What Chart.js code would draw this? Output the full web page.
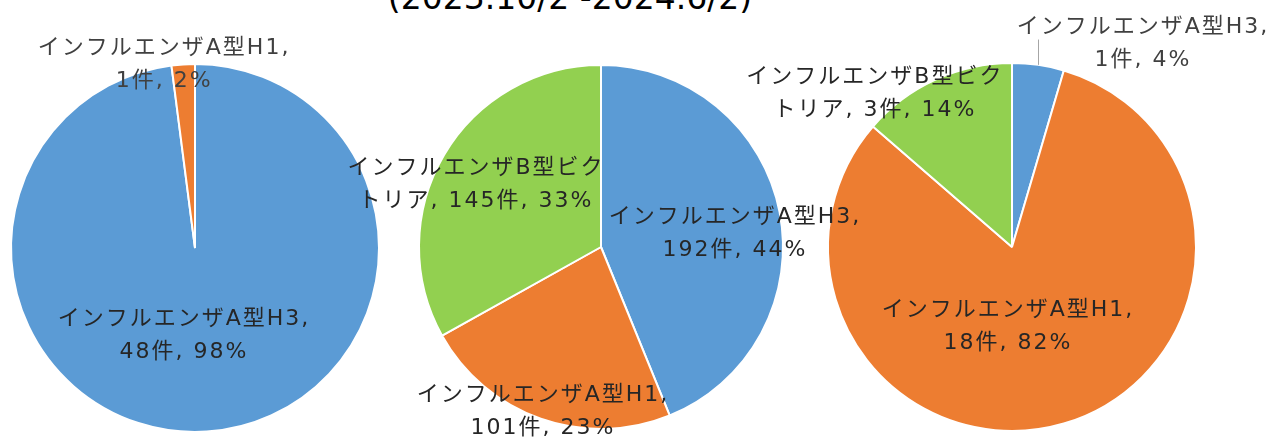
<!DOCTYPE html>
<html lang="ja">
<head>
<meta charset="utf-8">
<script src="https://cdn.jsdelivr.net/npm/chart.js@4.4.1/dist/chart.umd.min.js"></script>
<style>
  html, body { margin: 0; padding: 0; background: #fff; }
  #stage { position: relative; width: 1272px; height: 441px; overflow: hidden; }
  #stage canvas { position: absolute; left: 0; top: 0; }
  #pieMid { z-index: 2; }
  #period {
    position: absolute; left: 320px; width: 500px; top: -19px;
    text-align: center; white-space: nowrap;
    font-family: "DejaVu Sans", "Noto Sans CJK JP", sans-serif;
    font-size: 33px; line-height: 1; color: #000;
  }
</style>
</head>
<body>
<div id="stage">
  <div id="period">(2023.10/2 -2024.6/2)</div>
  <canvas id="pieLeft" width="1272" height="441"></canvas>
  <canvas id="pieMid" width="1272" height="441"></canvas>
  <canvas id="pieRight" width="1272" height="441"></canvas>
</div>
<script>
// Subtype names
const H3 = 'インフルエンザA型H3';
const H1 = 'インフルエンザA型H1';
const BV = 'インフルエンザB型ビクトリア';

// Left pie
const leftCategories = [H3, H1];
const leftCounts = [48, 1];
const leftPercents = [98, 2];

// Middle pie
const midCategories = [H3, H1, BV];
const midCounts = [192, 101, 145];
const midPercents = [44, 23, 33];

// Right pie
const rightCategories = [H3, H1, BV];
const rightCounts = [1, 18, 3];
const rightPercents = [4, 82, 14];

const COLORS = { [H3]: '#5B9BD5', [H1]: '#ED7D31', [BV]: '#92D050' };
const FONT = '"DejaVu Sans", "Noto Sans CJK JP", sans-serif';

// Draws "name, n件, p%" labels, wrapped onto two lines, anchored relative to the pie centre
const sliceLabels = {
  id: 'sliceLabels',
  afterDatasetsDraw(chart, args, opts) {
    const ctx = chart.ctx;
    const meta = chart.getDatasetMeta(0);
    const names = chart.data.labels;
    const counts = chart.data.datasets[0].data;
    const pct = opts.percents;
    ctx.save();
    ctx.font = opts.fontSize + 'px ' + FONT;
    ctx.letterSpacing = opts.letterSpacing + 'px';
    ctx.textAlign = 'center';
    ctx.textBaseline = 'middle';
    meta.data.forEach((arc, i) => {
      const p = arc.getProps(['x', 'y', 'outerRadius', 'startAngle', 'endAngle'], true);
      const place = opts.places[i];
      const text = names[i] + ', ' + counts[i] + '件, ' + pct[i] + '%';
      const brk = place.brk != null ? place.brk : names[i].length + 1;
      const lines = [text.slice(0, brk).trim(), text.slice(brk).trim()];
      const lx = p.x + place.dx * p.outerRadius;
      const ly = p.y + place.dy * p.outerRadius;
      const gap = opts.lineGap;
      if (place.leader) {
        const mid = (p.startAngle + p.endAngle) / 2;
        const ex = p.x + Math.cos(mid) * p.outerRadius;
        const ey = p.y + Math.sin(mid) * p.outerRadius;
        ctx.strokeStyle = '#A6A6A6';
        ctx.lineWidth = 1;
        ctx.beginPath();
        ctx.moveTo(Math.round(ex) + 0.5, ey);
        ctx.lineTo(Math.round(ex) + 0.5, ly - gap / 2 + 12);
        ctx.stroke();
      }
      ctx.fillStyle = place.color || '#404040';
      lines.forEach((ln, k) => {
        ctx.fillText(ln, lx, ly + (k - 0.5) * gap);
      });
    });
    ctx.restore();
  }
};

function makePie(id, categories, counts, percents, padding, places) {
  return new Chart(document.getElementById(id), {
    type: 'pie',
    data: {
      labels: categories,
      datasets: [{
        data: counts,
        backgroundColor: categories.map(c => COLORS[c]),
        borderColor: '#FFFFFF',
        borderWidth: 2
      }]
    },
    options: {
      responsive: false,
      animation: false,
      events: [],
      layout: { padding },
      plugins: {
        legend: { display: false },
        tooltip: { enabled: false },
        sliceLabels: { percents, places, fontSize: 22, letterSpacing: 2, lineGap: 33 }
      }
    },
    plugins: [sliceLabels]
  });
}

makePie('pieLeft', leftCategories, leftCounts, leftPercents,
  { left: 10, top: 63, right: 892, bottom: 8 },
  [
    { dx: -0.060, dy: 0.478, color: '#262626' },
    { dx: -0.168, dy: -0.997 }
  ]);

makePie('pieMid', midCategories, midCounts, midPercents,
  { left: 418, top: 64, right: 488, bottom: 11 },
  [
    { dx: 0.736, dy: -0.071, color: '#262626' },
    { dx: -0.319, dy: 0.904, color: '#262626' },
    { dx: -0.687, dy: -0.341, brk: 11, color: '#262626' }
  ]);

makePie('pieRight', rightCategories, rightCounts, rightPercents,
  { left: 827, top: 62, right: 75, bottom: 9 },
  [
    { dx: 0.712, dy: -1.103, leader: true },
    { dx: -0.022, dy: 0.432, color: '#262626' },
    { dx: -0.745, dy: -0.834, brk: 11, color: '#262626' }
  ]);
</script>
</body>
</html>
